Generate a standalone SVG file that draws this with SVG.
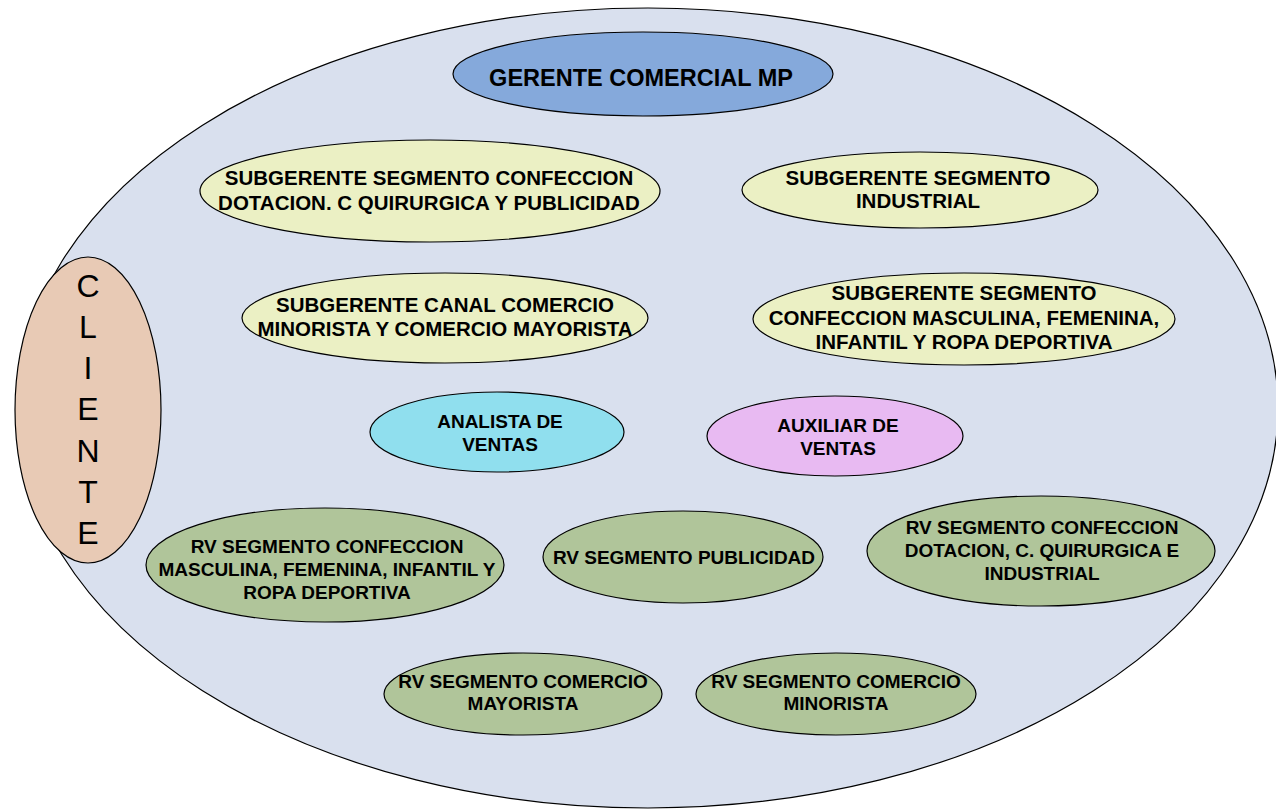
<svg xmlns="http://www.w3.org/2000/svg" width="1276" height="810" viewBox="0 0 1276 810">
<style>
  ellipse { stroke: #000; stroke-width: 1.2; }
  text { font-family: "Liberation Sans", Arial, sans-serif; font-weight: bold; fill: #000; text-anchor: middle; }
  .outer { fill: #D9E0EE; }
  .ger { fill: #85A9DB; }
  .sub { fill: #EBF0C4; }
  .ana { fill: #90DFEE; }
  .aux { fill: #E8BAF2; }
  .rv { fill: #B0C59A; }
  .cli { fill: #E8CAB5; }
  .t23 { font-size: 23.5px; }
  .t20 { font-size: 20.5px; }
  .t19 { font-size: 19px; }
  .cl { font-size: 32px; font-weight: normal; }
</style>
<rect width="1276" height="810" fill="#FFFFFF"/>
<g id="contenedor">
  <ellipse class="outer" cx="648" cy="408" rx="630" ry="400"/>
</g>
<g id="cliente">
  <ellipse class="cli" cx="88" cy="410" rx="73" ry="153"/>
  <text class="cl" x="88" y="297">C</text>
  <text class="cl" x="88" y="338">L</text>
  <text class="cl" x="88" y="379">I</text>
  <text class="cl" x="88" y="420">E</text>
  <text class="cl" x="88" y="462">N</text>
  <text class="cl" x="88" y="503">T</text>
  <text class="cl" x="88" y="544">E</text>
</g>
<g id="gerente">
  <ellipse class="ger" cx="643" cy="74" rx="190" ry="42"/>
  <text class="t23" x="641" y="86">GERENTE COMERCIAL MP</text>
</g>
<g id="sub-dotacion">
  <ellipse class="sub" cx="430" cy="191" rx="230" ry="51"/>
  <text class="t20" x="429" y="185">SUBGERENTE SEGMENTO CONFECCION</text>
  <text class="t20" x="429" y="210">DOTACION. C QUIRURGICA Y PUBLICIDAD</text>
</g>
<g id="sub-industrial">
  <ellipse class="sub" cx="920" cy="190" rx="178" ry="38"/>
  <text class="t20" x="918" y="185">SUBGERENTE SEGMENTO</text>
  <text class="t20" x="918" y="208">INDUSTRIAL</text>
</g>
<g id="sub-canal">
  <ellipse class="sub" cx="445" cy="318" rx="203" ry="45"/>
  <text class="t20" x="445" y="312">SUBGERENTE CANAL COMERCIO</text>
  <text class="t20" x="445" y="336">MINORISTA Y COMERCIO MAYORISTA</text>
</g>
<g id="sub-masculina">
  <ellipse class="sub" cx="964" cy="319" rx="211" ry="46"/>
  <text class="t20" x="964" y="300">SUBGERENTE SEGMENTO</text>
  <text class="t20" x="964" y="325">CONFECCION MASCULINA, FEMENINA,</text>
  <text class="t20" x="964" y="349">INFANTIL Y ROPA DEPORTIVA</text>
</g>
<g id="analista">
  <ellipse class="ana" cx="497" cy="432" rx="127" ry="40"/>
  <text class="t19" x="500" y="428">ANALISTA DE</text>
  <text class="t19" x="500" y="451">VENTAS</text>
</g>
<g id="auxiliar">
  <ellipse class="aux" cx="835" cy="436" rx="128" ry="40"/>
  <text class="t19" x="838" y="432">AUXILIAR DE</text>
  <text class="t19" x="838" y="455">VENTAS</text>
</g>
<g id="rv-masculina">
  <ellipse class="rv" cx="325" cy="565" rx="179" ry="57"/>
  <text class="t19" x="327" y="553">RV SEGMENTO CONFECCION</text>
  <text class="t19" x="327" y="576">MASCULINA, FEMENINA, INFANTIL Y</text>
  <text class="t19" x="327" y="599">ROPA DEPORTIVA</text>
</g>
<g id="rv-publicidad">
  <ellipse class="rv" cx="683" cy="557" rx="140" ry="46"/>
  <text class="t19" x="684" y="564">RV SEGMENTO PUBLICIDAD</text>
</g>
<g id="rv-dotacion">
  <ellipse class="rv" cx="1041" cy="551" rx="174" ry="55"/>
  <text class="t19" x="1042" y="534">RV SEGMENTO  CONFECCION</text>
  <text class="t19" x="1042" y="557">DOTACION, C. QUIRURGICA E</text>
  <text class="t19" x="1042" y="580">INDUSTRIAL</text>
</g>
<g id="rv-mayorista">
  <ellipse class="rv" cx="523" cy="694" rx="139" ry="41"/>
  <text class="t19" x="523" y="688">RV SEGMENTO COMERCIO</text>
  <text class="t19" x="523" y="710">MAYORISTA</text>
</g>
<g id="rv-minorista">
  <ellipse class="rv" cx="836" cy="694" rx="140" ry="41"/>
  <text class="t19" x="836" y="688">RV SEGMENTO COMERCIO</text>
  <text class="t19" x="836" y="710">MINORISTA</text>
</g>
</svg>
